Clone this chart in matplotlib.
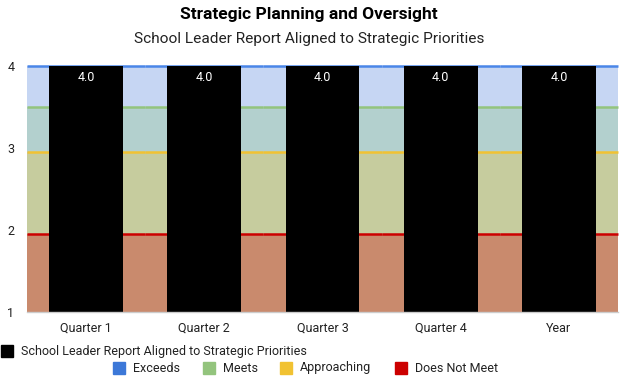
import matplotlib
matplotlib.use("Agg")
import matplotlib.pyplot as plt
from matplotlib.patches import Rectangle
import numpy as np

plt.rcParams['font.family'] = ['Roboto', 'DejaVu Sans']

categories = ['Quarter 1', 'Quarter 2', 'Quarter 3', 'Quarter 4', 'Year']
report = [4.0, 4.0, 4.0, 4.0, 4.0]

# Upper edge of each rating band, per period
does_not_meet = [1.95, 1.95, 1.95, 1.95, 1.95]
approaching = [2.95, 2.95, 2.95, 2.95, 2.95]
meets = [3.5, 3.5, 3.5, 3.5, 3.5]
exceeds = [4.0, 4.0, 4.0, 4.0, 4.0]

y_ticks = [1, 2, 3, 4]
baseline = 1.0

band_series = [
    ('Does Not Meet', does_not_meet, '#c98a6d', '#cc0000'),
    ('Approaching', approaching, '#c6cc9e', '#f1c232'),
    ('Meets', meets, '#b3d0ce', '#93c47d'),
    ('Exceeds', exceeds, '#c6d6f3', '#4a86e8'),
]

W, H = 623, 377
fig = plt.figure(figsize=(W / 100, H / 100), dpi=100)
ax = fig.add_axes([27 / W, (H - 312) / H, (618 - 27) / W, (312 - 66) / H])

x = np.arange(len(categories))
prev = np.full(len(categories), baseline)
for name, tops, fill, line in band_series:
    tops = np.array(tops)
    ax.bar(x, tops - prev, bottom=prev, width=1.0, color=fill, linewidth=0, zorder=1)
    ax.hlines(tops, x - 0.5, x + 0.5, colors=line, linewidth=1.8, zorder=2, clip_on=False)
    prev = tops

vals = np.array(report)
bars = ax.bar(x, vals - baseline, bottom=baseline, width=0.626, color='black', zorder=3)
for xi, v in zip(x, vals):
    ax.annotate(f'{v:.1f}', (xi, v), xytext=(0, -8.5), textcoords='offset points',
                ha='center', va='center', color='white', fontsize=9, zorder=4)

ax.set_xlim(-0.5, len(categories) - 0.5)
ax.set_ylim(1, 4)
ax.set_yticks(y_ticks)
ax.set_yticklabels([str(t) for t in y_ticks])
ax.set_xticks(x)
ax.set_xticklabels(categories)
ax.tick_params(axis='both', length=0, labelsize=9, colors='#222222')
ax.tick_params(axis='y', pad=9)
ax.tick_params(axis='x', pad=7)
for s in ['top', 'right', 'left']:
    ax.spines[s].set_visible(False)
ax.spines['bottom'].set_color('#cccccc')
ax.spines['bottom'].set_linewidth(1)
ax.spines['bottom'].set_zorder(5)

fig.text(309 / W, 1 - 15 / H, 'Strategic Planning and Oversight', ha='center', va='center',
         fontsize=12.5, fontweight='bold', color='#000000')
fig.text(309 / W, 1 - 39 / H, 'School Leader Report Aligned to Strategic Priorities', ha='center',
         va='center', fontsize=11.1, color='#222222')

# Legend
def legend_item(x0, yc, color, label):
    fig.add_artist(Rectangle((x0 / W, 1 - (yc + 6) / H), 12 / W, 12 / H,
                             transform=fig.transFigure, color=color))
    fig.text((x0 + 20) / W, 1 - yc / H, label, ha='left', va='center', fontsize=9, color='#222222')

legend_item(1, 351, 'black', 'School Leader Report Aligned to Strategic Priorities')
legend_item(113, 368, '#3c78d8', 'Exceeds')
legend_item(203, 368, '#93c47d', 'Meets')
legend_item(280, 368, '#f1c232', 'Approaching')
legend_item(395, 368, '#cc0000', 'Does Not Meet')

fig.savefig('out.png', dpi=100)
